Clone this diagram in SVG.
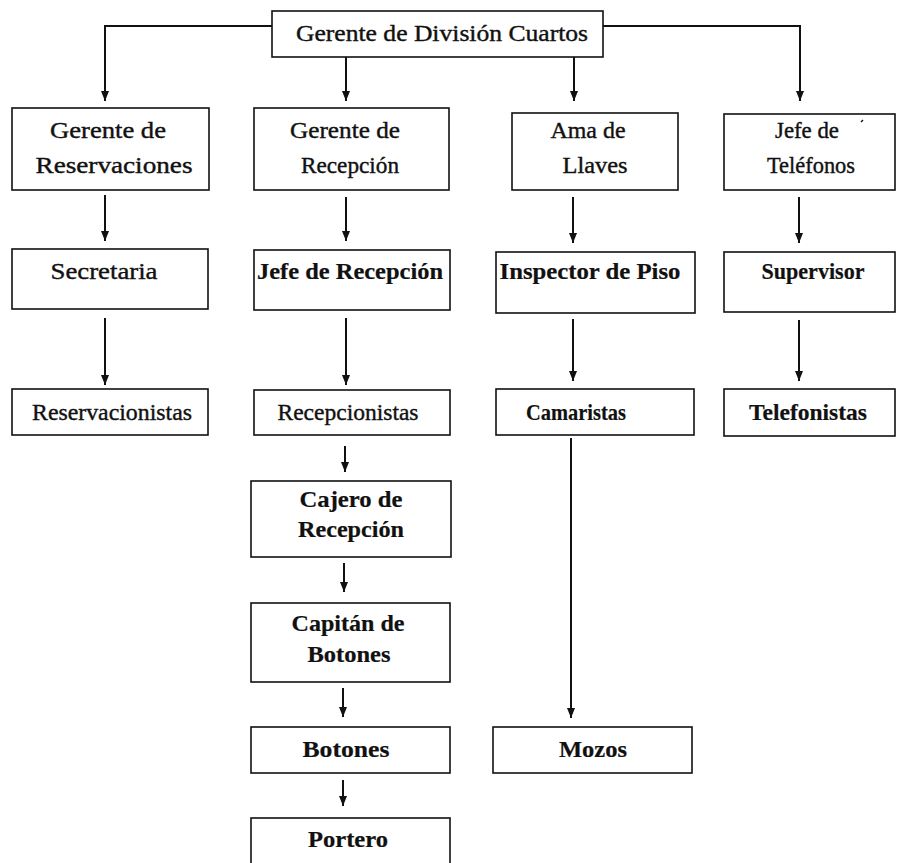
<svg xmlns="http://www.w3.org/2000/svg" width="900" height="863" viewBox="0 0 900 863">
<style>
  .box{fill:#fff;stroke:#111;stroke-width:1.6}
  .t{font-family:"Liberation Serif","Times New Roman",serif;font-size:24px;fill:#111;text-anchor:middle;stroke:#111;stroke-width:0.4}
  .b{font-weight:bold;stroke-width:0.2}
  .con path{fill:none;stroke:#111;stroke-width:2}
</style>
<defs>
  <marker id="ah" markerUnits="userSpaceOnUse" markerWidth="10" markerHeight="10" viewBox="0 0 10 10" refX="10" refY="5" orient="auto">
    <path d="M0,1 L10,5 L0,9 Z" fill="#111"/>
  </marker>
</defs>
<rect width="900" height="863" fill="#fff"/>
<g id="connectors" class="con">
  <path d="M272,26 H105 V101" marker-end="url(#ah)"/>
  <path d="M346,57 V101" marker-end="url(#ah)"/>
  <path d="M574,57 V101" marker-end="url(#ah)"/>
  <path d="M603,26 H800 V101" marker-end="url(#ah)"/>
  <path d="M105,195 V241" marker-end="url(#ah)"/>
  <path d="M346,197 V241" marker-end="url(#ah)"/>
  <path d="M573,197 V243" marker-end="url(#ah)"/>
  <path d="M799,197 V243" marker-end="url(#ah)"/>
  <path d="M105,318 V385" marker-end="url(#ah)"/>
  <path d="M346,318 V385" marker-end="url(#ah)"/>
  <path d="M573,319 V381" marker-end="url(#ah)"/>
  <path d="M799,320 V381" marker-end="url(#ah)"/>
  <path d="M345,446 V472" marker-end="url(#ah)"/>
  <path d="M344,563 V592" marker-end="url(#ah)"/>
  <path d="M343,688 V717" marker-end="url(#ah)"/>
  <path d="M343,780 V806" marker-end="url(#ah)"/>
  <path d="M571,438 V718" marker-end="url(#ah)"/>
</g>
<g id="gerente-division">
  <rect class="box" x="272" y="11" width="331" height="46"/>
  <text class="t" x="442" y="41" textLength="292" lengthAdjust="spacingAndGlyphs">Gerente de División Cuartos</text>
</g>
<g id="gerente-reservaciones">
  <rect class="box" x="12" y="108" width="197" height="82"/>
  <text class="t" x="108" y="138" textLength="116" lengthAdjust="spacingAndGlyphs">Gerente de</text>
  <text class="t" x="114" y="173" textLength="157" lengthAdjust="spacingAndGlyphs">Reservaciones</text>
</g>
<g id="gerente-recepcion">
  <rect class="box" x="254" y="108" width="195" height="82"/>
  <text class="t" x="345" y="138" textLength="110" lengthAdjust="spacingAndGlyphs">Gerente de</text>
  <text class="t" x="350" y="173" textLength="98" lengthAdjust="spacingAndGlyphs">Recepción</text>
</g>
<g id="ama-de-llaves">
  <rect class="box" x="512" y="113" width="166" height="77"/>
  <text class="t" x="588" y="138" textLength="75" lengthAdjust="spacingAndGlyphs">Ama de</text>
  <text class="t" x="595" y="173" textLength="65" lengthAdjust="spacingAndGlyphs">Llaves</text>
</g>
<g id="jefe-telefonos">
  <rect class="box" x="724" y="114" width="171" height="76"/>
  <text class="t" x="807" y="138" textLength="64" lengthAdjust="spacingAndGlyphs">Jefe de</text>
  <text class="t" x="811" y="173" textLength="88" lengthAdjust="spacingAndGlyphs">Teléfonos</text>
  <path d="M861,122 l2,-2" stroke="#111" stroke-width="1.5"/>
</g>
<g id="secretaria">
  <rect class="box" x="12" y="249" width="196" height="60"/>
  <text class="t" x="104" y="279" textLength="107" lengthAdjust="spacingAndGlyphs">Secretaria</text>
</g>
<g id="jefe-recepcion">
  <rect class="box" x="254" y="250" width="196" height="60"/>
  <text class="t b" x="350" y="279" textLength="186" lengthAdjust="spacingAndGlyphs">Jefe de Recepción</text>
</g>
<g id="inspector-piso">
  <rect class="box" x="496" y="252" width="199" height="61"/>
  <text class="t b" x="590" y="279" textLength="181" lengthAdjust="spacingAndGlyphs">Inspector de Piso</text>
</g>
<g id="supervisor">
  <rect class="box" x="724" y="252" width="171" height="60"/>
  <text class="t b" x="813" y="279" textLength="103" lengthAdjust="spacingAndGlyphs">Supervisor</text>
</g>
<g id="reservacionistas">
  <rect class="box" x="12" y="389" width="196" height="46"/>
  <text class="t" x="112" y="420" textLength="160" lengthAdjust="spacingAndGlyphs">Reservacionistas</text>
</g>
<g id="recepcionistas">
  <rect class="box" x="254" y="390" width="196" height="45"/>
  <text class="t" x="348" y="420" textLength="141" lengthAdjust="spacingAndGlyphs">Recepcionistas</text>
</g>
<g id="camaristas">
  <rect class="box" x="496" y="389" width="198" height="46"/>
  <text class="t b" x="576" y="420" textLength="100" lengthAdjust="spacingAndGlyphs">Camaristas</text>
</g>
<g id="telefonistas">
  <rect class="box" x="724" y="389" width="171" height="47"/>
  <text class="t b" x="808" y="420" textLength="118" lengthAdjust="spacingAndGlyphs">Telefonistas</text>
</g>
<g id="cajero-recepcion">
  <rect class="box" x="251" y="481" width="200" height="76"/>
  <text class="t b" x="351" y="507" textLength="103" lengthAdjust="spacingAndGlyphs">Cajero de</text>
  <text class="t b" x="351" y="537" textLength="106" lengthAdjust="spacingAndGlyphs">Recepción</text>
</g>
<g id="capitan-botones">
  <rect class="box" x="251" y="603" width="199" height="79"/>
  <text class="t b" x="348" y="631" textLength="113" lengthAdjust="spacingAndGlyphs">Capitán de</text>
  <text class="t b" x="349" y="662" textLength="83" lengthAdjust="spacingAndGlyphs">Botones</text>
</g>
<g id="botones">
  <rect class="box" x="251" y="727" width="199" height="46"/>
  <text class="t b" x="346" y="757" textLength="87" lengthAdjust="spacingAndGlyphs">Botones</text>
</g>
<g id="portero">
  <rect class="box" x="251" y="818" width="199" height="60"/>
  <text class="t b" x="348" y="847" textLength="80" lengthAdjust="spacingAndGlyphs">Portero</text>
</g>
<g id="mozos">
  <rect class="box" x="493" y="727" width="199" height="46"/>
  <text class="t b" x="593" y="757" textLength="68" lengthAdjust="spacingAndGlyphs">Mozos</text>
</g>
</svg>
